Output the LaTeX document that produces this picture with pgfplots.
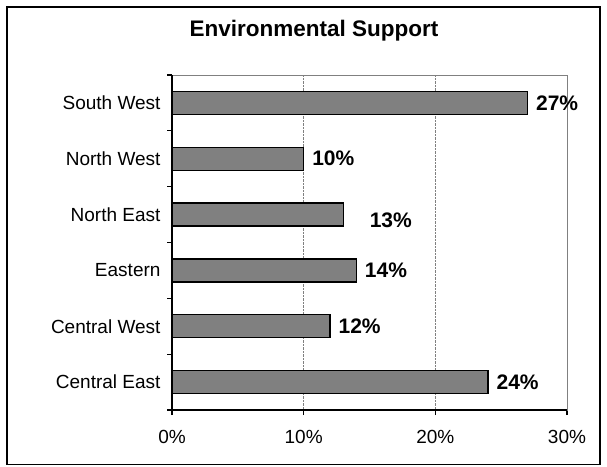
\documentclass[border=0pt]{standalone}
\usepackage{pgfplots}
\pgfplotsset{compat=1.18}
\usepackage{pgfplotstable}
\usepackage{fontspec}
\setmainfont{Liberation Sans}
\pgfplotstableread{
y x dx dy
0 24 8 0
1 12 8 0
2 14 8 0
3 13 26 -6
4 10 8 0
5 27 8 0
}\datatable
\begin{document}
\begin{tikzpicture}
\useasboundingbox (0pt,0pt) rectangle (607pt,466pt);
\draw[line width=1.2pt] (7pt,1.5pt) rectangle (600pt,459pt);
\node[font=\bfseries\fontsize{22.5}{26}\selectfont, anchor=base] at (314pt,429pt) {Environmental Support};
\begin{axis}[
  at={(172pt,56pt)}, anchor=south west, scale only axis,
  width=395pt, height=335pt,
  xmin=0, xmax=30, ymin=-0.5, ymax=5.5,
  xbar, bar width=23pt,
  xtick={0,10,20,30}, xticklabels={0\%,10\%,20\%,30\%},
  ytick={0,...,5},
  yticklabels={Central East,Central West,Eastern,North East,North West,South West},
  minor ytick={-0.5,0.5,...,5.5},
  major y tick style={draw=none},
  tick align=outside, major tick length=5pt, minor tick length=5pt,
  tick style={black, line width=1.2pt},
  xtick pos=bottom, ytick pos=left,
  xmajorgrids, grid style={gray, densely dotted, line width=0.8pt},
  axis line style={gray, line width=1pt},
  ticklabel style={font=\fontsize{19}{22}\selectfont},
  xticklabel style={yshift=-12pt},
  yticklabel style={xshift=-3pt},
  clip=false,
  point meta=x,
  visualization depends on={\thisrow{dx} \as \dx},
  visualization depends on={\thisrow{dy} \as \dy},
  nodes near coords={\textbf{\pgfmathprintnumber[assume math mode=true]{\pgfplotspointmeta}\%}},
  nodes near coords style={anchor=west, inner sep=0pt, xshift=\dx pt, yshift=\dy pt, font=\fontsize{21}{24}\selectfont},
]
\addplot[fill=gray, draw=black, line width=1.2pt] table[x=x, y=y] {\datatable};
\draw[black, line width=1.2pt] (rel axis cs:0,1) -- (rel axis cs:0,0) -- (rel axis cs:1,0);
\end{axis}
\end{tikzpicture}
\end{document}
